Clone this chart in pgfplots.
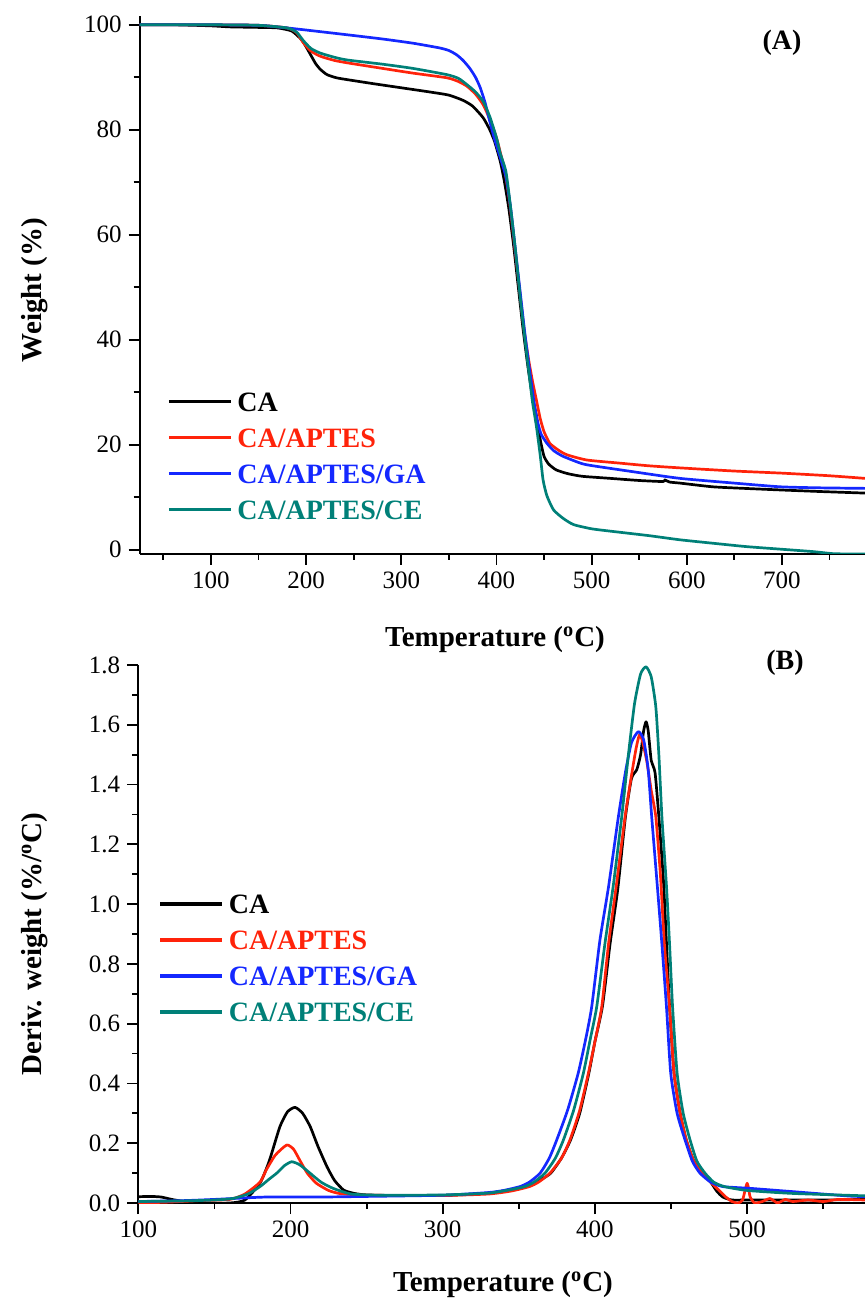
\documentclass[border=0pt]{standalone}
\usepackage{pgfplots}
\pgfplotsset{compat=1.18}
\usepackage{fontspec}
\setmainfont{Liberation Serif}

\definecolor{cBlack}{RGB}{0,0,0}
\definecolor{cRed}{RGB}{255,35,10}
\definecolor{cBlue}{RGB}{20,40,255}
\definecolor{cTeal}{RGB}{0,128,120}

\pgfplotsset{
  tgbase/.style={
    scale only axis,
    axis x line=bottom, axis y line=left,
    axis line style={line width=1pt,-},
    tick style={line width=0.9pt,black},
    tick align=outside,
    major tick length=5.5pt, minor tick length=3pt,
    ticklabel style={font=\fontsize{12.5}{15}\selectfont},
    /pgf/number format/assume math mode=true,
    every axis plot/.append style={line width=1.35pt, line join=round, smooth, tension=0.35},
    legend cell align=left,
    legend style={draw=none, fill=none, inner sep=0pt, outer sep=0pt,
      font=\fontsize{14}{16}\selectfont\bfseries,
      row sep=5pt, column sep=2.5pt,
      nodes={inner sep=0pt, text height=10pt, text depth=3pt}},
    legend image code/.code={\draw[#1,line width=1.6pt] (0pt,1.5pt) -- (31pt,1.5pt);},
  }
}

\begin{document}
\begin{tikzpicture}
% ---------------- (A) weight loss ----------------
\begin{axis}[tgbase,
  at={(69.8pt,374pt)}, anchor=south west,
  width=362.8pt, height=268.8pt,
  xmin=25, xmax=787.5, ymin=-0.8, ymax=101.6,
  xtick={100,200,...,700}, minor xtick={50,150,...,750},
  ytick={0,20,...,100}, minor ytick={10,30,...,90},
  legend style={at={(0.038,0.177)}, anchor=west},
]
\addplot[cBlack] coordinates {
(25,100) (60,100) (100,99.8) (120,99.6) (150,99.5) (170,99.4) (185,98.8)
(195,97.2) (200,95.8) (205,94.2) (210,92.6) (215,91.5) (222,90.5) (232,89.9)
(245,89.5) (270,88.8) (300,88.0) (330,87.2) (350,86.6) (365,85.6) (375,84.5)
(386,82.3) (393,80.0) (398,77.8) (404,74.0) (408,70.5) (413,65) (418,58)
(423,50) (428,42) (433,35) (438,29) (442,25.5) (446,21) (450,17.8) (455,16.3)
(463,15.2) (475,14.5) (490,14.0) (520,13.6) (550,13.2) (575,13.0) (577,13.3)
(582,12.9) (593,12.7) (627,12.0) (660,11.7) (698,11.4) (740,11.1) (787.5,10.8)
};
\addlegendentry{\textcolor{cBlack}{CA}}
\addplot[cRed] coordinates {
(25,100) (100,100) (150,99.9) (180,99.4) (190,98.5) (197,96.6) (205,95.0)
(215,94.0) (230,93.2) (245,92.7) (280,91.7) (312,90.8) (348,89.9) (360,89.2)
(369,88.3) (378,86.8) (386,84.8) (393,82.0) (400,78.5) (405,75) (409,72)
(414,66) (419,58) (424,50) (429,42) (434,36) (438,32) (442,28.5) (446,25.0)
(450,22.5) (456,20.3) (465,19.0) (474,18.1) (495,17.1) (530,16.5) (560,16.0)
(593,15.6) (650,15.0) (700,14.6) (750,14.1) (787.5,13.6)
};
\addlegendentry{\textcolor{cRed}{CA/APTES}}
\addplot[cBlue] coordinates {
(25,100) (100,100) (150,99.9) (175,99.5) (200,99.0) (243,98.1) (280,97.3)
(312,96.5) (340,95.6) (350,95.1) (358,94.3) (365,93.2) (372,91.7) (378,90.0)
(383,88.0) (388,85.2) (393,81.6) (398,78.2) (404,74.7) (410,71) (415,65)
(420,57) (425,49) (430,41) (435,34) (440,27.5) (443,24.5) (447,22) (453,20.3)
(460,18.9) (470,17.8) (490,16.4) (505,15.9) (550,14.7) (593,13.6) (650,12.7)
(698,12.0) (740,11.8) (787.5,11.7)
};
\addlegendentry{\textcolor{cBlue}{CA/APTES/GA}}
\addplot[cTeal] coordinates {
(25,100) (100,100) (150,99.9) (180,99.4) (190,98.6) (197,97.0) (205,95.5)
(215,94.6) (230,93.8) (243,93.3) (280,92.5) (312,91.7) (348,90.5) (360,89.8)
(369,88.6) (378,87.2) (386,85.4) (393,82.5) (400,78.5) (404,75.5) (410,72)
(415,65) (420,57) (425,48) (430,40) (435,32.4) (438,28) (442,23.5) (446,18.0)
(449,13.3) (453,10.3) (460,7.6) (470,6.0) (481,4.8) (500,4.0) (522,3.5)
(560,2.7) (593,1.9) (630,1.2) (663,0.6) (700,0.1) (733,-0.35) (755,-0.75)
(787.5,-0.8)
};
\addlegendentry{\textcolor{cTeal}{CA/APTES/CE}}
\end{axis}

% ---------------- (B) derivative weight ----------------
\begin{axis}[tgbase,
  at={(69.15pt,49.5pt)}, anchor=south west,
  width=363.4pt, height=269pt,
  xmin=100, xmax=577.5, ymin=0, ymax=1.8,
  xtick={100,200,...,500}, minor xtick={150,250,...,550},
  ytick={0,0.2,...,1.8}, minor ytick={0.1,0.3,...,1.7},
  yticklabel style={/pgf/number format/.cd, fixed, fixed zerofill, precision=1},
  legend style={at={(0.028,0.45)}, anchor=west},
]
\addplot[cBlack] coordinates {
(100,0.021) (108,0.022) (115,0.02) (122,0.012) (130,0.005) (140,0.0) (160,0.0)
(170,0.01) (180,0.067) (186,0.14) (193,0.255) (198,0.305) (203,0.32) (208,0.3)
(213,0.255) (218,0.19) (224,0.121) (229,0.075) (235,0.043) (242,0.032)
(250,0.027) (270,0.025) (300,0.025) (330,0.033) (345,0.045) (357,0.06)
(365,0.08) (371,0.1) (378,0.15) (384,0.211) (390,0.3) (396,0.434) (400,0.54)
(405,0.66) (410,0.869) (415,1.05) (420,1.29) (424,1.42) (427.5,1.45)
(430,1.5) (432,1.58) (433.6,1.61) (435,1.58) (437,1.48) (439.5,1.44)
(442,1.292) (445,1.08) (447,0.869) (449,0.66) (452,0.434) (456,0.3)
(460,0.211) (465,0.14) (470.5,0.1) (476,0.07) (480,0.04) (484,0.02)
(490,0.01) (500,0.01) (520,0.01) (550,0.01) (577.5,0.012)
};
\addlegendentry{\textcolor{cBlack}{CA}}
\addplot[cRed] coordinates {
(100,0.0) (120,0.003) (140,0.008) (160,0.012) (170,0.03) (180,0.07)
(184,0.11) (190,0.16) (197.5,0.194) (202,0.18) (206,0.144) (211,0.1)
(217,0.066) (225,0.042) (232,0.032) (245,0.027) (270,0.025) (300,0.025)
(330,0.03) (345,0.04) (357,0.055) (363,0.07) (370.5,0.1) (378,0.15)
(383.6,0.211) (390,0.31) (395.7,0.434) (400,0.54) (404.5,0.657) (409,0.869)
(414,1.06) (419.8,1.292) (424,1.43) (427,1.52) (429.2,1.566) (431,1.55)
(434,1.48) (437,1.38) (440,1.292) (443,1.1) (445.6,0.869) (449,0.657)
(452,0.434) (456,0.3) (460,0.211) (465,0.14) (470.5,0.1) (476,0.07)
(482,0.04) (486,0.02) (490,0.005) (494,0.0) (497,0.01) (500,0.066)
(502,0.02) (505,0.0) (510,0.005) (515,0.015) (520,0.0) (525,0.012)
(530,0.005) (540,0.01) (550,0.005) (560,0.012) (577.5,0.01)
};
\addlegendentry{\textcolor{cRed}{CA/APTES}}
\addplot[cBlue] coordinates {
(100,0.005) (130,0.008) (150,0.012) (170,0.017) (185,0.02) (220,0.02)
(250,0.022) (300,0.026) (330,0.035) (340,0.042) (350.8,0.055) (357,0.07)
(364,0.1) (370,0.15) (374.9,0.211) (382,0.31) (389,0.434) (394,0.55)
(397.9,0.657) (403.3,0.88) (409,1.06) (415.4,1.292) (420,1.44) (424,1.54)
(428.5,1.577) (432,1.55) (435,1.45) (437.3,1.292) (441,1.06) (443.8,0.88)
(447,0.657) (449.8,0.434) (454,0.3) (459.2,0.211) (464,0.14) (469,0.1)
(476,0.07) (484,0.055) (502,0.049) (530,0.038) (567.6,0.023) (577.5,0.022)
};
\addlegendentry{\textcolor{cBlue}{CA/APTES/GA}}
\addplot[cTeal] coordinates {
(100,0.005) (130,0.007) (150,0.01) (162,0.015) (172,0.03) (180,0.055)
(186,0.08) (191,0.1) (196,0.125) (200.8,0.138) (206,0.128) (212.8,0.1)
(220,0.07) (228,0.049) (240,0.03) (260,0.026) (300,0.027) (330,0.033)
(345,0.045) (354,0.055) (360,0.07) (367.2,0.1) (374,0.15) (379.3,0.211)
(386,0.31) (392.4,0.434) (397,0.55) (401.2,0.657) (406.6,0.869) (412,1.06)
(417.6,1.292) (422,1.5) (426,1.67) (430,1.77) (433.6,1.794) (437,1.76)
(440,1.66) (442,1.5) (444,1.292) (447,1.06) (449,0.869) (451,0.657)
(454,0.434) (458,0.3) (462.5,0.211) (467,0.14) (472.3,0.1) (478,0.07)
(485,0.055) (500,0.042) (530,0.032) (577.5,0.024)
};
\addlegendentry{\textcolor{cTeal}{CA/APTES/CE}}
\end{axis}

% axis titles and panel tags
\begin{scope}[every node/.style={font=\fontsize{14.5}{17}\selectfont\bfseries, inner sep=0pt}]
\node at (247.5pt,331pt) {Temperature (\textsuperscript{o}C)};
\node at (251.5pt,8.5pt) {Temperature (\textsuperscript{o}C)};
\node[rotate=90] at (17.5pt,506pt) {Weight (\%)};
\node[rotate=90] at (17.5pt,179pt) {Deriv. weight (\%/\textsuperscript{o}C)};
\end{scope}
\node[font=\fontsize{14}{16}\selectfont\bfseries, inner sep=0pt] at (391pt,629.5pt) {(A)};
\node[font=\fontsize{14}{16}\selectfont\bfseries, inner sep=0pt] at (392.5pt,319.5pt) {(B)};

\pgfresetboundingbox
\path[use as bounding box] (0pt,0pt) rectangle (432.5pt,651pt);
\end{tikzpicture}
\end{document}
